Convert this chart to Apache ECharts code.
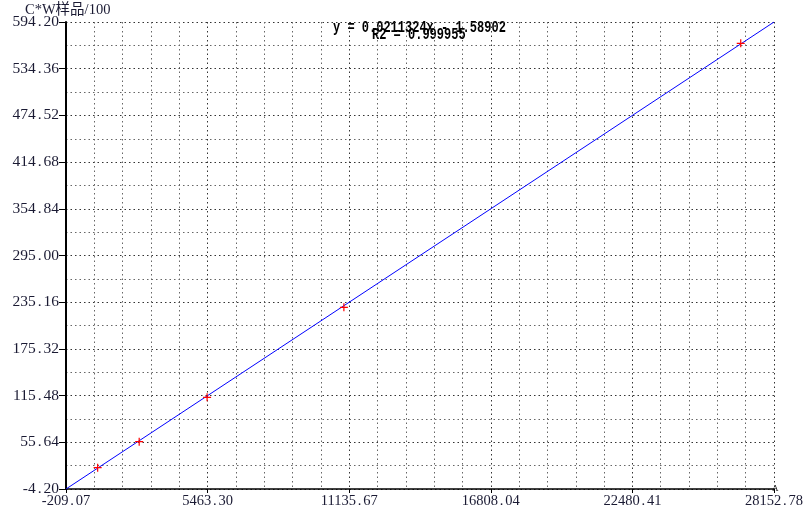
<!DOCTYPE html>
<html><head><meta charset="utf-8">
<script src="https://cdn.jsdelivr.net/npm/echarts@6/dist/echarts.min.js"></script>
<style>html,body{margin:0;padding:0;background:#fff}#c{width:806px;height:518px}</style>
</head><body><div id="c"></div>
<script>
const xTicks = [-209.07, 5463.30, 11135.67, 16808.04, 22480.41, 28152.78];
const yTicks = [-4.20, 55.64, 115.48, 175.32, 235.16, 295.00, 354.84, 414.68, 474.52, 534.36, 594.20];
const sampleX = [1059, 2723, 5443, 10923, 26820];
const sampleY = [23.1, 56.4, 113.3, 228.6, 566.9];
const fitX = [-209.07, 28152.78];
const fitY = [-4.20, 594.20];
const yAxisTitle = 'C*W样品/100';
const eqText = 'y = 0.0211324x - 1.58902';
const r2Text = 'R2 = 0.999955';

const chart = echarts.init(document.getElementById('c'));
const FF = '"Liberation Serif", "Noto Sans CJK SC", serif';
const gridDotted = {show: true, lineStyle: {color: '#333', type: [1.5, 3], width: 1}};
const minorDotted = {show: true, lineStyle: {color: '#666', type: [1.5, 3], width: 1}};
function nearestLabel(arr, v) {
  let best = arr[0];
  for (const t of arr) if (Math.abs(t - v) < Math.abs(best - v)) best = t;
  const s = best.toFixed(2);
  return s.replace('.', '{p|.}');
}
function labelStyle(size) {
  return {fontFamily: FF, fontSize: size, color: '#1a1a33',
    rich: {p: {fontFamily: FF, fontSize: size, color: '#1a1a33', width: size * 0.5, align: 'center'}}};
}
chart.setOption({
  animation: false,
  grid: {left: 66, right: 31, top: 22, bottom: 29},
  xAxis: {
    type: 'value', min: xTicks[0], max: xTicks[xTicks.length - 1], interval: xTicks[1] - xTicks[0],
    axisLine: {show: true, onZero: false, lineStyle: {color: '#000', width: 1.5}},
    axisTick: {show: true, length: 4, lineStyle: {color: '#000'}},
    axisLabel: Object.assign({margin: 5, formatter: v => nearestLabel(xTicks, v)}, labelStyle(14.5)),
    splitLine: gridDotted,
    minorTick: {show: false, splitNumber: 5},
    minorSplitLine: minorDotted
  },
  yAxis: {
    type: 'value', min: yTicks[0], max: yTicks[yTicks.length - 1], interval: yTicks[1] - yTicks[0],
    axisLine: {show: true, onZero: false, lineStyle: {color: '#000', width: 2}},
    axisTick: {show: true, length: 7, lineStyle: {color: '#000'}},
    axisLabel: Object.assign({margin: 7, formatter: v => nearestLabel(yTicks, v)}, labelStyle(15.5)),
    splitLine: gridDotted,
    minorTick: {show: false, splitNumber: 2},
    minorSplitLine: minorDotted
  },
  graphic: [
    {type: 'text', left: 25, top: 3, style: {text: yAxisTitle, font: '14.5px "Liberation Serif", "Noto Sans CJK SC", serif', fill: '#1a1a33'}},
    {type: 'text', x: 333, y: 19, scaleY: 1.45, style: {text: eqText, font: 'bold 12px "Liberation Mono", monospace', fill: '#000'}},
    {type: 'text', x: 372, y: 26, scaleY: 1.45, style: {text: r2Text, font: 'bold 12px "Liberation Mono", monospace', fill: '#000'}},
    {type: 'text', x: 772, y: 484, style: {text: 'A', font: '9px "Liberation Serif", serif', fill: '#000'}}
  ],
  series: [
    {type: 'line', data: fitX.map((x, i) => [x, fitY[i]]), symbol: 'none', lineStyle: {color: '#0000ff', width: 1}, z: 3, silent: true},
    {type: 'scatter', data: sampleX.map((x, i) => [x, sampleY[i]]),
     symbol: 'path://M-0.6,-4H0.6V-0.6H4V0.6H0.6V4H-0.6V0.6H-4V-0.6H-0.6Z', symbolSize: 8,
     itemStyle: {color: '#ff0000', opacity: 1}, z: 4}
  ]
});
</script></body></html>
